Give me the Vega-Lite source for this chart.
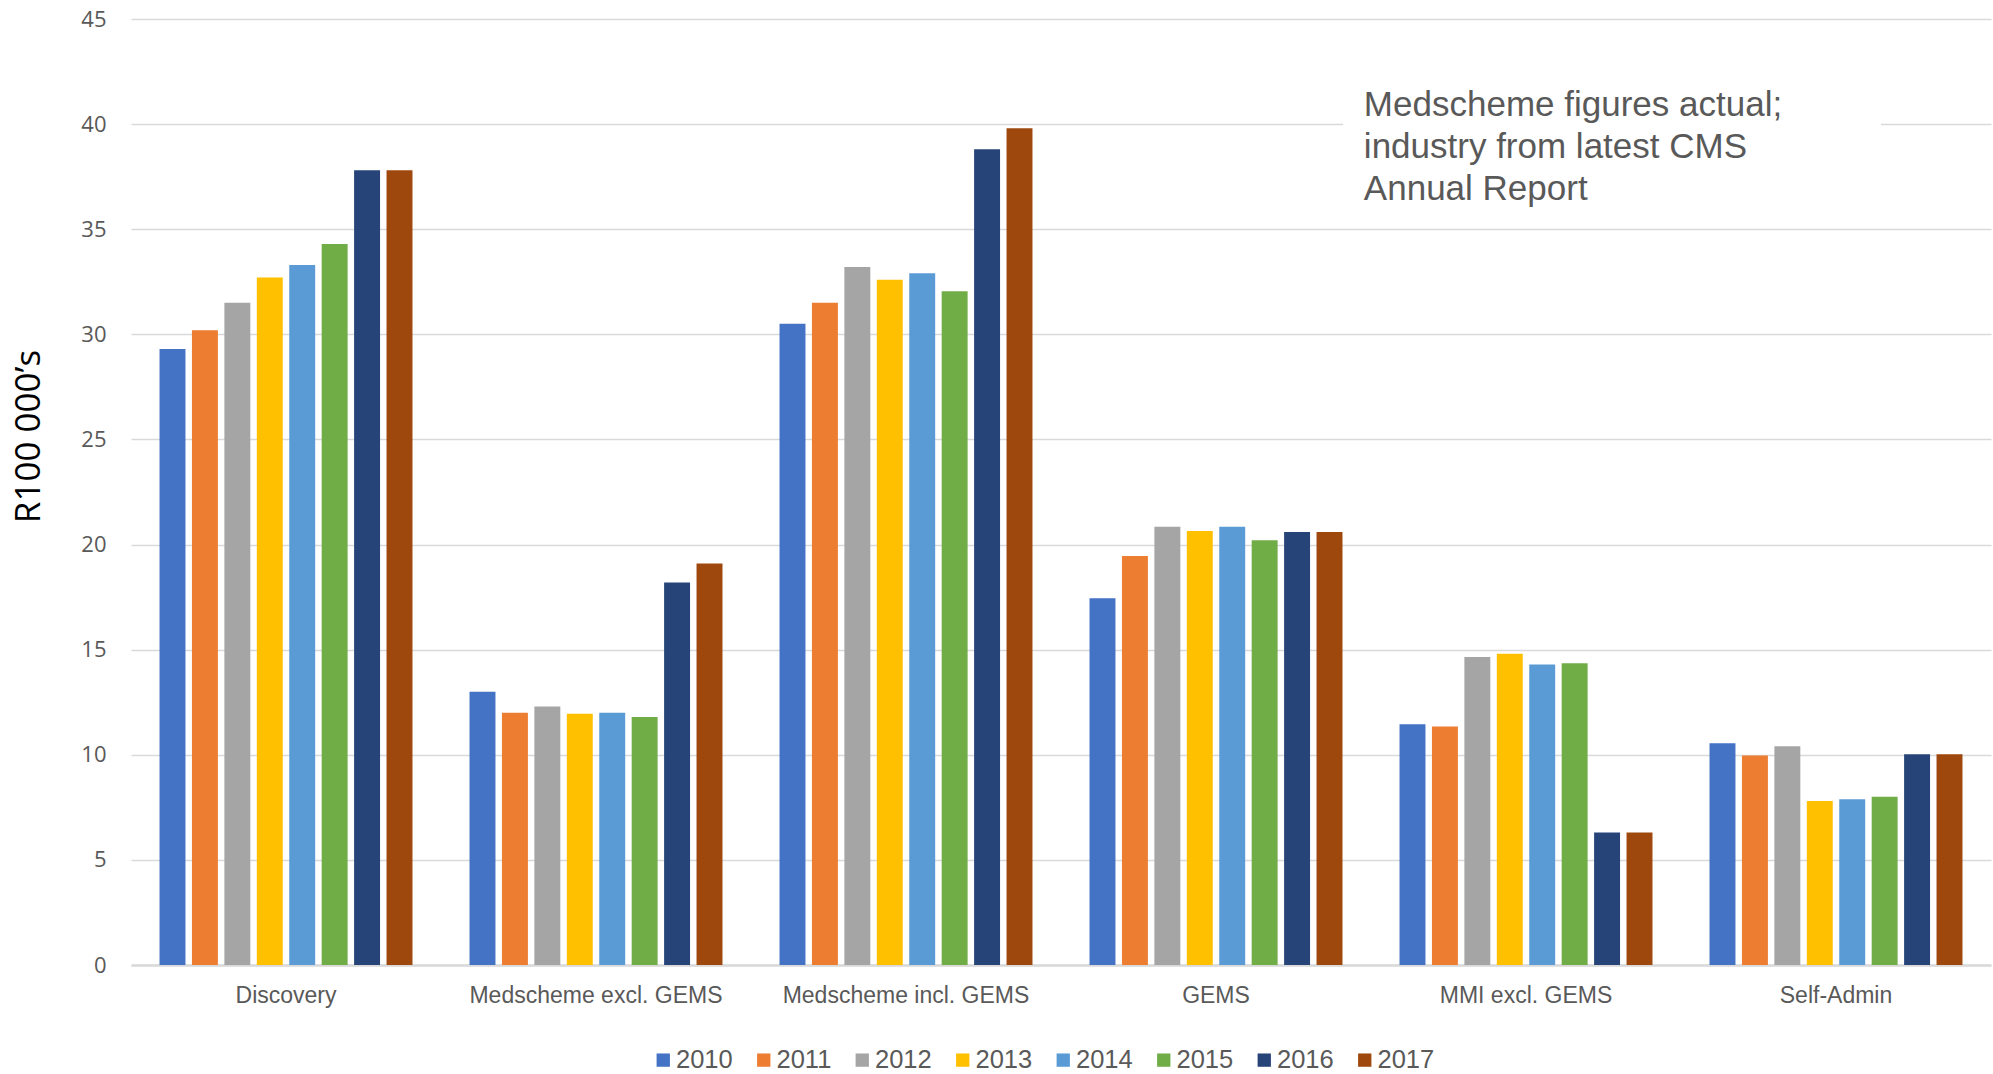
{
  "$schema": "https://vega.github.io/schema/vega-lite/v6.json",
  "width": 1860,
  "height": 946,
  "autosize": {"type": "none"},
  "padding": {"left": 131, "top": 19, "right": 2, "bottom": 109},
  "background": "white",
  "config": {"view": {"stroke": null}},
  "layer": [
    {
      "data": {
        "values": [
          {"company": "Discovery", "year": "2010", "value": 29.3},
          {"company": "Discovery", "year": "2011", "value": 30.2},
          {"company": "Discovery", "year": "2012", "value": 31.5},
          {"company": "Discovery", "year": "2013", "value": 32.7},
          {"company": "Discovery", "year": "2014", "value": 33.3},
          {"company": "Discovery", "year": "2015", "value": 34.3},
          {"company": "Discovery", "year": "2016", "value": 37.8},
          {"company": "Discovery", "year": "2017", "value": 37.8},
          {"company": "Medscheme excl. GEMS", "year": "2010", "value": 13.0},
          {"company": "Medscheme excl. GEMS", "year": "2011", "value": 12.0},
          {"company": "Medscheme excl. GEMS", "year": "2012", "value": 12.3},
          {"company": "Medscheme excl. GEMS", "year": "2013", "value": 11.95},
          {"company": "Medscheme excl. GEMS", "year": "2014", "value": 12.0},
          {"company": "Medscheme excl. GEMS", "year": "2015", "value": 11.8},
          {"company": "Medscheme excl. GEMS", "year": "2016", "value": 18.2},
          {"company": "Medscheme excl. GEMS", "year": "2017", "value": 19.1},
          {"company": "Medscheme incl. GEMS", "year": "2010", "value": 30.5},
          {"company": "Medscheme incl. GEMS", "year": "2011", "value": 31.5},
          {"company": "Medscheme incl. GEMS", "year": "2012", "value": 33.2},
          {"company": "Medscheme incl. GEMS", "year": "2013", "value": 32.6},
          {"company": "Medscheme incl. GEMS", "year": "2014", "value": 32.9},
          {"company": "Medscheme incl. GEMS", "year": "2015", "value": 32.05},
          {"company": "Medscheme incl. GEMS", "year": "2016", "value": 38.8},
          {"company": "Medscheme incl. GEMS", "year": "2017", "value": 39.8},
          {"company": "GEMS", "year": "2010", "value": 17.45},
          {"company": "GEMS", "year": "2011", "value": 19.45},
          {"company": "GEMS", "year": "2012", "value": 20.85},
          {"company": "GEMS", "year": "2013", "value": 20.65},
          {"company": "GEMS", "year": "2014", "value": 20.85},
          {"company": "GEMS", "year": "2015", "value": 20.2},
          {"company": "GEMS", "year": "2016", "value": 20.6},
          {"company": "GEMS", "year": "2017", "value": 20.6},
          {"company": "MMI excl. GEMS", "year": "2010", "value": 11.45},
          {"company": "MMI excl. GEMS", "year": "2011", "value": 11.35},
          {"company": "MMI excl. GEMS", "year": "2012", "value": 14.65},
          {"company": "MMI excl. GEMS", "year": "2013", "value": 14.8},
          {"company": "MMI excl. GEMS", "year": "2014", "value": 14.3},
          {"company": "MMI excl. GEMS", "year": "2015", "value": 14.35},
          {"company": "MMI excl. GEMS", "year": "2016", "value": 6.3},
          {"company": "MMI excl. GEMS", "year": "2017", "value": 6.3},
          {"company": "Self-Admin", "year": "2010", "value": 10.55},
          {"company": "Self-Admin", "year": "2011", "value": 9.97},
          {"company": "Self-Admin", "year": "2012", "value": 10.4},
          {"company": "Self-Admin", "year": "2013", "value": 7.8},
          {"company": "Self-Admin", "year": "2014", "value": 7.88},
          {"company": "Self-Admin", "year": "2015", "value": 8.0},
          {"company": "Self-Admin", "year": "2016", "value": 10.03},
          {"company": "Self-Admin", "year": "2017", "value": 10.03}
        ]
      },
      "mark": {"type": "bar"},
      "encoding": {
        "x": {
          "field": "company",
          "type": "nominal",
          "sort": ["Discovery", "Medscheme excl. GEMS", "Medscheme incl. GEMS", "GEMS", "MMI excl. GEMS", "Self-Admin"],
          "scale": {"paddingInner": 0.184, "paddingOuter": 0.092},
          "axis": {
            "title": null,
            "labelAngle": 0,
            "labelLimit": 0,
            "labelFont": "Liberation Sans",
            "labelFontSize": 23,
            "labelColor": "#595959",
            "labelPadding": 19,
            "ticks": false,
            "tickSize": 0,
            "domain": true,
            "domainColor": "#D9D9D9",
            "domainWidth": 2.5,
            "grid": false
          }
        },
        "xOffset": {
          "field": "year",
          "type": "nominal",
          "scale": {"paddingInner": 0.2, "paddingOuter": 0}
        },
        "y": {
          "field": "value",
          "type": "quantitative",
          "scale": {"domain": [0, 45], "nice": false},
          "axis": {
            "title": "R100 000’s",
            "titleFont": "Open Sans",
            "titleFontSize": 35,
            "titleFontWeight": "normal",
            "titleColor": "#000000",
            "titleAngle": 270,
            "titleAlign": "center",
            "titleBaseline": "middle",
            "titleX": -103,
            "titleY": 417,
            "values": [0, 5, 10, 15, 20, 25, 30, 35, 40, 45],
            "labelFont": "Open Sans",
            "labelFontSize": 22,
            "labelColor": "#595959",
            "labelPadding": 25,
            "ticks": false,
            "tickSize": 0,
            "domain": false,
            "grid": true,
            "gridColor": "#D9D9D9",
            "gridWidth": 1.6
          }
        },
        "color": {
          "field": "year",
          "type": "nominal",
          "scale": {
            "domain": ["2010", "2011", "2012", "2013", "2014", "2015", "2016", "2017"],
            "range": ["#4472C4", "#ED7D31", "#A5A5A5", "#FFC000", "#5B9BD5", "#70AD47", "#264478", "#9E480E"]
          },
          "legend": {
            "title": null,
            "orient": "none",
            "direction": "horizontal",
            "columns": 8,
            "legendX": 519.5,
            "legendY": 1028,
            "padding": 0,
            "symbolType": "square",
            "symbolSize": 177,
            "symbolStrokeWidth": 0,
            "labelFont": "Liberation Sans",
            "labelFontSize": 25.5,
            "labelColor": "#595959",
            "labelOffset": 0,
            "columnPadding": 17.5
          }
        }
      }
    },
    {
      "data": {"values": [{"from": 3.91, "to": 5.645, "low": 36.5, "high": 42.5}]},
      "mark": {"type": "rect", "color": "white"},
      "encoding": {
        "x": {"field": "from", "type": "quantitative", "scale": {"domain": [0, 6], "nice": false, "zero": false}, "axis": null},
        "x2": {"field": "to"},
        "y": {"field": "low", "type": "quantitative", "scale": {"domain": [0, 45], "nice": false}, "axis": null},
        "y2": {"field": "high"}
      }
    },
    {
      "data": {"values": [{"pos": 3.977, "level": 41.7, "note": ["Medscheme figures actual;", "industry from latest CMS", "Annual Report"]}]},
      "mark": {"type": "text", "align": "left", "baseline": "top", "font": "Liberation Sans", "fontSize": 35, "lineHeight": 42, "color": "#595959"},
      "encoding": {
        "x": {"field": "pos", "type": "quantitative", "scale": {"domain": [0, 6], "nice": false, "zero": false}, "axis": null},
        "y": {"field": "level", "type": "quantitative", "scale": {"domain": [0, 45], "nice": false}, "axis": null},
        "text": {"field": "note", "type": "nominal"}
      }
    }
  ],
  "resolve": {"scale": {"x": "independent", "y": "independent"}}
}
